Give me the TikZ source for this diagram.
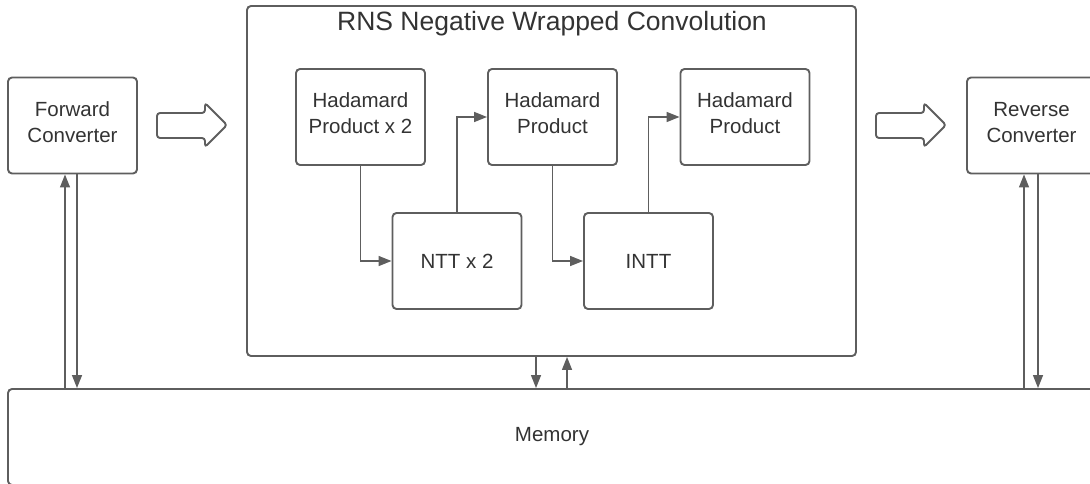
\documentclass[tikz,border=0pt]{standalone}
\usepackage{fontspec}
\setmainfont{Liberation Sans}
\usetikzlibrary{arrows.meta,calc}
\definecolor{linec}{HTML}{5E5E5E}
\definecolor{txt}{HTML}{333333}

\begin{document}
\begin{tikzpicture}[x=1pt,y=-1pt,
  box/.style={draw=linec, line width=1.9pt, rounded corners=4pt, fill=white,
    text=txt, align=center, font=\fontsize{20.5}{26}\selectfont, inner sep=0pt},
  unit/.style={box, minimum width=129pt, minimum height=96pt},
  twoline/.style={text depth=7pt},
  flow/.style={draw=linec, line width=1.3pt, -{Triangle[length=13pt,width=10pt]}},
  bigarrow/.style={draw=linec, line width=1.9pt, rounded corners=3pt, fill=white}
]
\useasboundingbox[fill=white] (0,0) rectangle (1090,484);

% memory at the bottom
\node[box, minimum width=1088pt, minimum height=96pt] (mem) at (552,437) {Memory};

% converters
\node[unit, twoline] (fwd) at (72.5,125.5) {Forward\\Converter};
\node[unit, twoline] (rev) at (1031.5,125.5) {Reverse\\Converter};

% convolution block
\node[box, minimum width=609pt, minimum height=350pt] (conv) at (551.5,181) {};
\node[text=txt, font=\fontsize{26.5}{30}\selectfont] (title) at (552,23.5) {RNS Negative Wrapped Convolution};

\node[unit, twoline] (hp1) at (360.5,117) {Hadamard\\Product x 2};
\node[unit, twoline] (hp2) at (552.5,117) {Hadamard\\Product};
\node[unit, twoline] (hp3) at (745,117) {Hadamard\\Product};
\node[unit] (ntt) at (457,261) {NTT x 2};
\node[unit] (intt) at (648.5,261) {INTT};

% data flow inside the block
\draw[flow] (hp1.south) |- (ntt.west);
\draw[flow] (ntt.north) |- (hp2.west);
\draw[flow] (hp2.south) |- (intt.west);
\draw[flow] (intt.north) |- (hp3.west);

% memory traffic
\coordinate (fu) at (65,0);
\coordinate (fd) at (77,0);
\coordinate (cd) at (536,0);
\coordinate (cu) at (567,0);
\coordinate (ru) at (1024,0);
\coordinate (rd) at (1038,0);
\draw[flow] (mem.north -| fu) -- (fwd.south -| fu);
\draw[flow] (fwd.south -| fd) -- (mem.north -| fd);
\draw[flow] (conv.south -| cd) -- (mem.north -| cd);
\draw[flow] (mem.north -| cu) -- (conv.south -| cu);
\draw[flow] (mem.north -| ru) -- (rev.south -| ru);
\draw[flow] (rev.south -| rd) -- (mem.north -| rd);

% hollow block arrows between stages
\draw[bigarrow] (157,113) -- (205,113) -- (205,103) -- (227,125) -- (205,147) -- (205,138) -- (157,138) -- cycle;
\draw[bigarrow] (876,113) -- (924,113) -- (924,103) -- (946,125) -- (924,147) -- (924,138) -- (876,138) -- cycle;
\end{tikzpicture}
\end{document}
